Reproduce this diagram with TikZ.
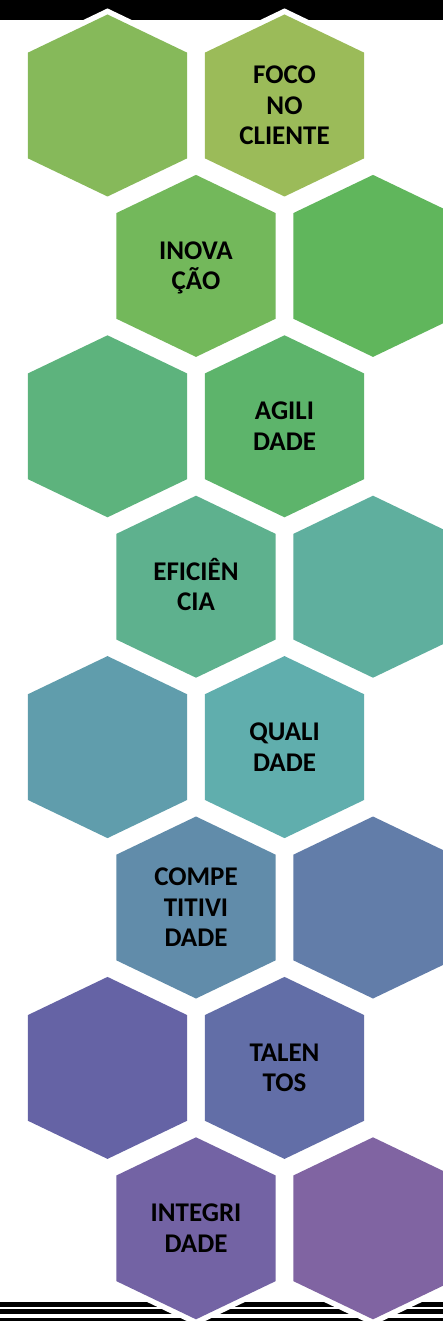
\documentclass[tikz,border=0pt]{standalone}
\usepackage{fontspec}
\setmainfont{Carlito}
\tikzset{
  hexwhite/.style={draw=white, line width=11pt, line join=miter},
  hexlabel/.style={font=\fontsize{27}{30.5}\selectfont\bfseries, align=center, inner sep=0pt, text=black},
  blackbar/.style={fill=black},
  hexa/.pic={
    \path[hexwhite] (0,-91) -- (79.7,-52.8) -- (79.7,52.8) -- (0,91) -- (-79.7,52.8) -- (-79.7,-52.8) -- cycle;
    \path[fill=#1] (0,-91) -- (79.7,-52.8) -- (79.7,52.8) -- (0,91) -- (-79.7,52.8) -- (-79.7,-52.8) -- cycle;
  }
}
\begin{document}
\begin{tikzpicture}[x=1pt,y=-1pt]
\useasboundingbox (0,0) rectangle (443,1321);
\clip (0,0) rectangle (443,1321);
% black bars
\fill[blackbar] (0,0) rectangle (443,20);
\fill[blackbar] (0,1302.3) rectangle (443,1306.7);
\fill[blackbar] (0,1309.3) rectangle (443,1314.3);
\fill[blackbar] (0,1317.7) rectangle (443,1322);
% hexagons: name/cx/cy/colour index/label
\foreach \nm/\cx/\cy/\k/\txt in {
  foco/284.5/105.5/0/{FOCO\\NO\\CLIENTE},
  b1/107.5/105.5/1/{},
  inov/196/265.9/2/{INOVA\\\smash{ÇÃ}O},
  b2/373/265.9/3/{},
  agil/284.5/426.3/4/{AGILI\\DADE},
  b3/107.5/426.3/5/{},
  efic/196/586.7/6/{EFICI\smash{Ê}N\\CIA},
  b4/373/586.7/7/{},
  qual/284.5/747.1/8/{QUALI\\DADE},
  b5/107.5/747.1/9/{},
  comp/196/907.5/10/{COMPE\\TITIVI\\DADE},
  b6/373/907.5/11/{},
  tal/284.5/1067.9/12/{TALEN\\TOS},
  b7/107.5/1067.9/13/{},
  integ/196/1228.3/14/{INTEGRI\\DADE},
  b8/373/1228.3/15/{}}
{
  \pgfmathsetmacro\hh{(79.6+\k*12.49)/360}
  \pgfmathsetmacro\ss{0.524-\k*0.0094}
  \pgfmathsetmacro\bb{0.733-\k*0.00653}
  \convertcolorspec{hsb}{\hh,\ss,\bb}{rgb}\rgbspec
  \definecolor{hexc}{rgb}{\rgbspec}
  \pic at (\cx,\cy) {hexa=hexc};
  \node[hexlabel] (\nm) at (\cx,\cy) {\txt};
}
\end{tikzpicture}
\end{document}
